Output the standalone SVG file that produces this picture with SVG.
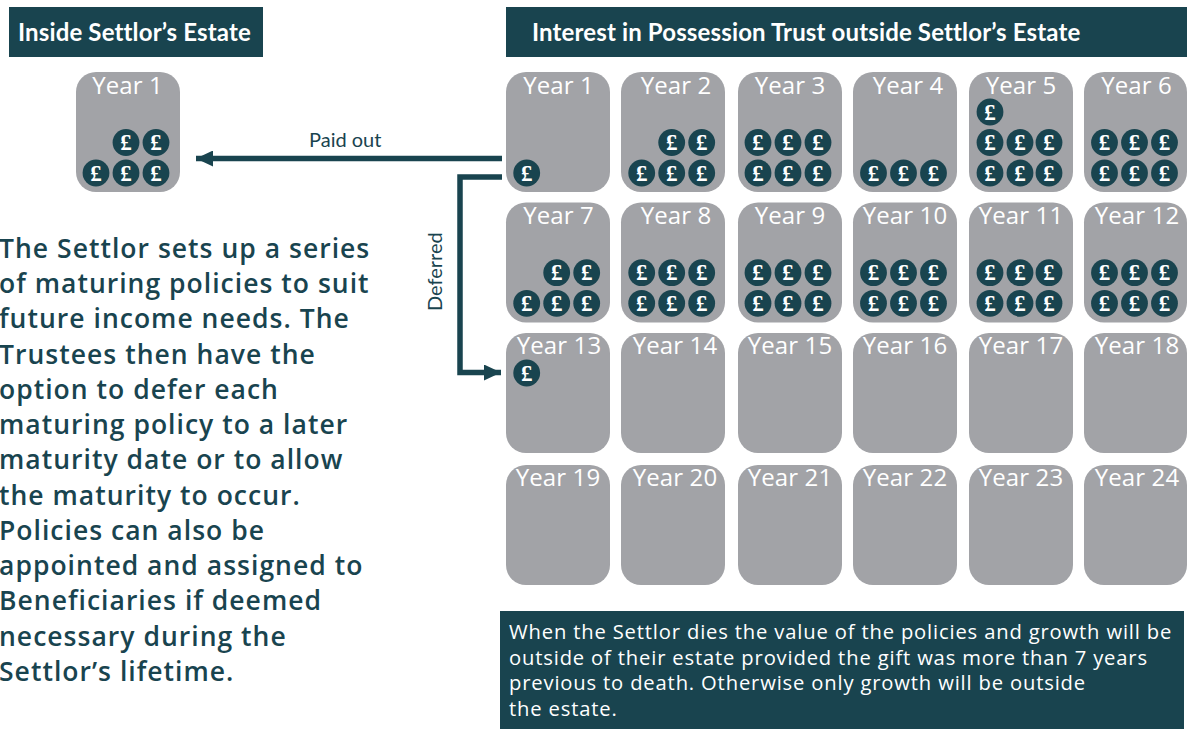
<svg xmlns="http://www.w3.org/2000/svg" width="1187" height="729" viewBox="0 0 1187 729">
<style>
.band{fill:#19444f}
.box{fill:#a2a3a7}
.yr{font:400 24px "Open Sans",sans-serif;fill:#fff;text-anchor:middle;letter-spacing:.12px}
.hd{font:700 24px "Lato",sans-serif;fill:#fff;letter-spacing:.14px}
.coin{fill:#19444f}
.p{font:700 23px "Liberation Serif",serif;fill:#fff;text-anchor:middle}
.lab{font:400 20px "Lato",sans-serif;fill:#19444f}
.body{font:600 26.5px "Open Sans",sans-serif;fill:#19444f;letter-spacing:1.02px}
.note{font:500 20.200px "Open Sans",sans-serif;fill:#fff;letter-spacing:.84px}
.ln{fill:none;stroke:#19444f;stroke-width:5.500}
</style>
<defs>
<marker id="ah" markerUnits="userSpaceOnUse" markerWidth="18" markerHeight="16" refX="17" refY="8" orient="auto"><path d="M0 0L17 8L0 16Z" fill="#19444f"/></marker>
<g id="c"><circle class="coin" r="13.4"/></g>
</defs>
<g id="header-left"><rect class="band" x="9" y="7" width="254" height="50"/><text class="hd" x="18" y="41">Inside Settlor’s Estate</text></g>
<g id="header-right"><rect class="band" x="506" y="7" width="681" height="50"/><text class="hd" x="532" y="41">Interest in Possession Trust outside Settlor’s Estate</text></g>
<g id="connectors">
<path class="ln" d="M502 158.500H196" marker-end="url(#ah)"/>
<path class="ln" d="M502 177H460V372.500H501" marker-end="url(#ah)"/>
</g>
<text class="lab" x="309" y="147">Paid out</text>
<text class="lab" transform="translate(442 311) rotate(-90)">Deferred</text>
<g id="inside-year-1"><rect class="box" x="76" y="72" width="104" height="120" rx="20"/><text class="yr" x="127.500" y="94">Year 1</text>
<use href="#c" x="126" y="142.500"/><text class="p" x="126" y="150">£</text><use href="#c" x="156" y="142.500"/><text class="p" x="156" y="150">£</text><use href="#c" x="96" y="173"/><text class="p" x="96" y="180.500">£</text><use href="#c" x="126" y="173"/><text class="p" x="126" y="180.500">£</text><use href="#c" x="156" y="173"/><text class="p" x="156" y="180.500">£</text></g>
<g id="y1"><rect class="box" x="506" y="72" width="104" height="120" rx="20"/><text class="yr" x="558.500" y="94">Year 1</text><use href="#c" x="526.700" y="173"/><text class="p" x="526.700" y="180.500">£</text></g>
<g id="y2"><rect class="box" x="621" y="72" width="104" height="120" rx="20"/><text class="yr" x="676" y="94">Year 2</text><use href="#c" x="671.700" y="142.500"/><text class="p" x="671.700" y="150">£</text><use href="#c" x="701.700" y="142.500"/><text class="p" x="701.700" y="150">£</text><use href="#c" x="641.700" y="173"/><text class="p" x="641.700" y="180.500">£</text><use href="#c" x="671.700" y="173"/><text class="p" x="671.700" y="180.500">£</text><use href="#c" x="701.700" y="173"/><text class="p" x="701.700" y="180.500">£</text></g>
<g id="y3"><rect class="box" x="738" y="72" width="104" height="120" rx="20"/><text class="yr" x="790" y="94">Year 3</text><use href="#c" x="758" y="142.500"/><text class="p" x="758" y="150">£</text><use href="#c" x="788" y="142.500"/><text class="p" x="788" y="150">£</text><use href="#c" x="818" y="142.500"/><text class="p" x="818" y="150">£</text><use href="#c" x="758" y="173"/><text class="p" x="758" y="180.500">£</text><use href="#c" x="788" y="173"/><text class="p" x="788" y="180.500">£</text><use href="#c" x="818" y="173"/><text class="p" x="818" y="180.500">£</text></g>
<g id="y4"><rect class="box" x="853" y="72" width="104" height="120" rx="20"/><text class="yr" x="908" y="94">Year 4</text><use href="#c" x="873.500" y="173"/><text class="p" x="873.500" y="180.500">£</text><use href="#c" x="903.500" y="173"/><text class="p" x="903.500" y="180.500">£</text><use href="#c" x="933.500" y="173"/><text class="p" x="933.500" y="180.500">£</text></g>
<g id="y5"><rect class="box" x="969" y="72" width="104" height="120" rx="20"/><text class="yr" x="1021" y="94">Year 5</text><use href="#c" x="990" y="112"/><text class="p" x="990" y="119.500">£</text><use href="#c" x="990" y="142.500"/><text class="p" x="990" y="150">£</text><use href="#c" x="1020" y="142.500"/><text class="p" x="1020" y="150">£</text><use href="#c" x="1049" y="142.500"/><text class="p" x="1049" y="150">£</text><use href="#c" x="990" y="173"/><text class="p" x="990" y="180.500">£</text><use href="#c" x="1020" y="173"/><text class="p" x="1020" y="180.500">£</text><use href="#c" x="1049" y="173"/><text class="p" x="1049" y="180.500">£</text></g>
<g id="y6"><rect class="box" x="1084" y="72" width="103" height="120" rx="20"/><text class="yr" x="1136.500" y="94">Year 6</text><use href="#c" x="1104.500" y="142.500"/><text class="p" x="1104.500" y="150">£</text><use href="#c" x="1134.500" y="142.500"/><text class="p" x="1134.500" y="150">£</text><use href="#c" x="1164.500" y="142.500"/><text class="p" x="1164.500" y="150">£</text><use href="#c" x="1104.500" y="173"/><text class="p" x="1104.500" y="180.500">£</text><use href="#c" x="1134.500" y="173"/><text class="p" x="1134.500" y="180.500">£</text><use href="#c" x="1164.500" y="173"/><text class="p" x="1164.500" y="180.500">£</text></g>
<g id="y7"><rect class="box" x="506" y="202.500" width="104" height="120" rx="20"/><text class="yr" x="558.500" y="224">Year 7</text><use href="#c" x="556.700" y="272.700"/><text class="p" x="556.700" y="280.200">£</text><use href="#c" x="586.700" y="272.700"/><text class="p" x="586.700" y="280.200">£</text><use href="#c" x="526.700" y="303.300"/><text class="p" x="526.700" y="310.800">£</text><use href="#c" x="556.700" y="303.300"/><text class="p" x="556.700" y="310.800">£</text><use href="#c" x="586.700" y="303.300"/><text class="p" x="586.700" y="310.800">£</text></g>
<g id="y8"><rect class="box" x="621" y="202.500" width="104" height="120" rx="20"/><text class="yr" x="676" y="224">Year 8</text><use href="#c" x="641.700" y="272.700"/><text class="p" x="641.700" y="280.200">£</text><use href="#c" x="671.700" y="272.700"/><text class="p" x="671.700" y="280.200">£</text><use href="#c" x="701.700" y="272.700"/><text class="p" x="701.700" y="280.200">£</text><use href="#c" x="641.700" y="303.300"/><text class="p" x="641.700" y="310.800">£</text><use href="#c" x="671.700" y="303.300"/><text class="p" x="671.700" y="310.800">£</text><use href="#c" x="701.700" y="303.300"/><text class="p" x="701.700" y="310.800">£</text></g>
<g id="y9"><rect class="box" x="738" y="202.500" width="104" height="120" rx="20"/><text class="yr" x="790" y="224">Year 9</text><use href="#c" x="758" y="272.700"/><text class="p" x="758" y="280.200">£</text><use href="#c" x="788" y="272.700"/><text class="p" x="788" y="280.200">£</text><use href="#c" x="818" y="272.700"/><text class="p" x="818" y="280.200">£</text><use href="#c" x="758" y="303.300"/><text class="p" x="758" y="310.800">£</text><use href="#c" x="788" y="303.300"/><text class="p" x="788" y="310.800">£</text><use href="#c" x="818" y="303.300"/><text class="p" x="818" y="310.800">£</text></g>
<g id="y10"><rect class="box" x="853" y="202.500" width="104" height="120" rx="20"/><text class="yr" x="905" y="224">Year 10</text><use href="#c" x="873.500" y="272.700"/><text class="p" x="873.500" y="280.200">£</text><use href="#c" x="903.500" y="272.700"/><text class="p" x="903.500" y="280.200">£</text><use href="#c" x="933.500" y="272.700"/><text class="p" x="933.500" y="280.200">£</text><use href="#c" x="873.500" y="303.300"/><text class="p" x="873.500" y="310.800">£</text><use href="#c" x="903.500" y="303.300"/><text class="p" x="903.500" y="310.800">£</text><use href="#c" x="933.500" y="303.300"/><text class="p" x="933.500" y="310.800">£</text></g>
<g id="y11"><rect class="box" x="969" y="202.500" width="104" height="120" rx="20"/><text class="yr" x="1021" y="224">Year 11</text><use href="#c" x="990" y="272.700"/><text class="p" x="990" y="280.200">£</text><use href="#c" x="1020" y="272.700"/><text class="p" x="1020" y="280.200">£</text><use href="#c" x="1049" y="272.700"/><text class="p" x="1049" y="280.200">£</text><use href="#c" x="990" y="303.300"/><text class="p" x="990" y="310.800">£</text><use href="#c" x="1020" y="303.300"/><text class="p" x="1020" y="310.800">£</text><use href="#c" x="1049" y="303.300"/><text class="p" x="1049" y="310.800">£</text></g>
<g id="y12"><rect class="box" x="1084" y="202.500" width="103" height="120" rx="20"/><text class="yr" x="1137" y="224">Year 12</text><use href="#c" x="1104.500" y="272.700"/><text class="p" x="1104.500" y="280.200">£</text><use href="#c" x="1134.500" y="272.700"/><text class="p" x="1134.500" y="280.200">£</text><use href="#c" x="1164.500" y="272.700"/><text class="p" x="1164.500" y="280.200">£</text><use href="#c" x="1104.500" y="303.300"/><text class="p" x="1104.500" y="310.800">£</text><use href="#c" x="1134.500" y="303.300"/><text class="p" x="1134.500" y="310.800">£</text><use href="#c" x="1164.500" y="303.300"/><text class="p" x="1164.500" y="310.800">£</text></g>
<g id="y13"><rect class="box" x="506" y="333" width="104" height="120" rx="20"/><text class="yr" x="559" y="354">Year 13</text><use href="#c" x="526.700" y="373"/><text class="p" x="526.700" y="380.500">£</text></g>
<g id="y14"><rect class="box" x="621" y="333" width="104" height="120" rx="20"/><text class="yr" x="675" y="354">Year 14</text></g>
<g id="y15"><rect class="box" x="738" y="333" width="104" height="120" rx="20"/><text class="yr" x="790" y="354">Year 15</text></g>
<g id="y16"><rect class="box" x="853" y="333" width="104" height="120" rx="20"/><text class="yr" x="905" y="354">Year 16</text></g>
<g id="y17"><rect class="box" x="969" y="333" width="104" height="120" rx="20"/><text class="yr" x="1021" y="354">Year 17</text></g>
<g id="y18"><rect class="box" x="1084" y="333" width="103" height="120" rx="20"/><text class="yr" x="1137" y="354">Year 18</text></g>
<g id="y19"><rect class="box" x="506" y="465" width="104" height="120" rx="20"/><text class="yr" x="558" y="486">Year 19</text></g>
<g id="y20"><rect class="box" x="621" y="465" width="104" height="120" rx="20"/><text class="yr" x="675" y="486">Year 20</text></g>
<g id="y21"><rect class="box" x="738" y="465" width="104" height="120" rx="20"/><text class="yr" x="790" y="486">Year 21</text></g>
<g id="y22"><rect class="box" x="853" y="465" width="104" height="120" rx="20"/><text class="yr" x="905" y="486">Year 22</text></g>
<g id="y23"><rect class="box" x="969" y="465" width="104" height="120" rx="20"/><text class="yr" x="1021" y="486">Year 23</text></g>
<g id="y24"><rect class="box" x="1084" y="465" width="103" height="120" rx="20"/><text class="yr" x="1137" y="486">Year 24</text></g>
<g id="body-text" class="body">
<text x="-1" y="258">The Settlor sets up a series</text>
<text x="-1" y="293">of maturing policies to suit</text>
<text x="-1" y="328">future income needs. The</text>
<text x="-1" y="364">Trustees then have the</text>
<text x="-1" y="399">option to defer each</text>
<text x="-1" y="434">maturing policy to a later</text>
<text x="-1" y="469">maturity date or to allow</text>
<text x="-1" y="505">the maturity to occur.</text>
<text x="-1" y="540">Policies can also be</text>
<text x="-1" y="575">appointed and assigned to</text>
<text x="-1" y="610">Beneficiaries if deemed</text>
<text x="-1" y="646">necessary during the</text>
<text x="-1" y="681">Settlor’s lifetime.</text>
</g>
<g id="note"><rect class="band" x="500" y="611" width="684" height="118"/>
<text class="note" x="509" y="639">When the Settlor dies the value of the policies and growth will be</text>
<text class="note" x="509" y="664.500">outside of their estate provided the gift was more than 7 years</text>
<text class="note" x="509" y="690">previous to death. Otherwise only growth will be outside</text>
<text class="note" x="509" y="715.500">the estate.</text></g>
</svg>
